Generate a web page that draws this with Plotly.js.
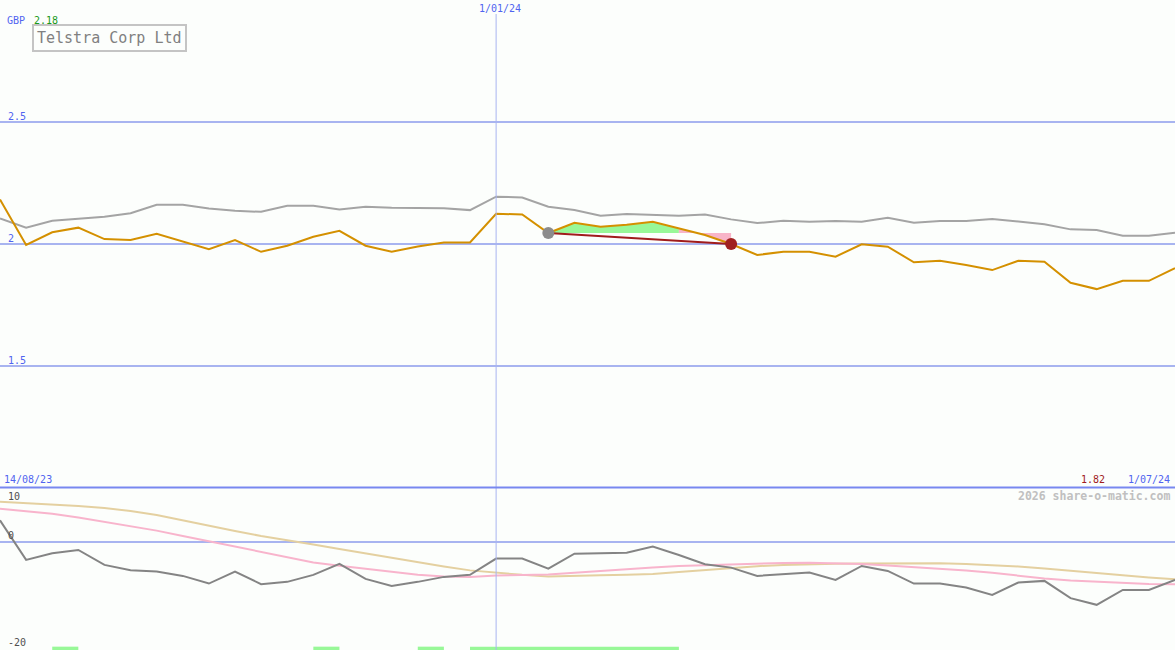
<!DOCTYPE html>
<html>
<head>
<meta charset="utf-8">
<script src="https://cdn.plot.ly/plotly-3.0.1.min.js"></script>
<style>
html,body{margin:0;padding:0;background:#fcfefc;}
#chart{width:1175px;height:650px;}
</style>
</head>
<body>
<div id="chart"></div>
<script>
// ---- data (weekly points, index 0 = 14/08/23, index 45 = 1/07/24) ----
const weekIndex = Array.from({length: 46}, (_, i) => i);
const price = [2.182,1.995,2.047,2.066,2.019,2.015,2.041,2.011,1.978,2.015,
               1.967,1.992,2.029,2.053,1.992,1.967,1.989,2.005,2.005,2.123,
               2.120,2.044,2.086,2.070,2.078,2.090,2.063,2.036,1.999,1.954,
               1.967,1.967,1.947,1.998,1.988,1.924,1.930,1.913,1.892,1.930,
               1.926,1.840,1.814,1.848,1.848,1.900];
const benchmark = [2.104,2.066,2.094,2.104,2.111,2.125,2.160,2.160,2.145,2.135,
                   2.131,2.156,2.156,2.141,2.152,2.148,2.148,2.146,2.138,2.193,
                   2.190,2.152,2.138,2.115,2.122,2.118,2.115,2.120,2.100,2.085,
                   2.094,2.090,2.093,2.090,2.107,2.086,2.093,2.093,2.102,2.091,
                   2.080,2.059,2.056,2.033,2.033,2.045];
const momentum = [3.94,-3.37,-2.14,-1.53,-4.29,-5.27,-5.52,-6.32,-7.73,-5.52,
                  -7.85,-7.42,-6.13,-4.11,-6.87,-8.16,-7.42,-6.50,-6.13,-3.13,
                  -3.13,-4.97,-2.21,-2.08,-2.03,-0.92,-2.45,-4.16,-4.79,-6.32,
                  -6.04,-5.71,-7.05,-4.48,-5.40,-7.73,-7.73,-8.47,-9.82,-7.55,
                  -7.24,-10.42,-11.66,-8.90,-8.90,-7.05];
const slowAvg = [7.37,7.13,6.87,6.57,6.21,5.65,4.92,3.90,2.89,1.97,
                 1.05,0.31,-0.52,-1.34,-2.17,-3.00,-3.83,-4.57,-5.30,-5.76,
                 -6.13,-6.41,-6.37,-6.19,-6.10,-5.95,-5.58,-5.21,-4.84,-4.53,
                 -4.29,-4.14,-4.07,-4.01,-3.98,-3.98,-3.98,-4.11,-4.29,-4.57,
                 -4.94,-5.40,-5.76,-6.22,-6.63,-6.96];
const fastAvg = [6.08,5.65,5.17,4.46,3.70,2.89,2.04,1.05,0.09,-0.88,
                 -1.86,-2.82,-3.83,-4.44,-5.03,-5.64,-6.10,-6.41,-6.50,-6.24,
                 -6.17,-6.04,-5.76,-5.40,-5.06,-4.75,-4.51,-4.33,-4.18,-4.01,
                 -3.92,-3.90,-3.98,-4.14,-4.38,-4.66,-4.94,-5.30,-5.76,-6.28,
                 -6.78,-7.15,-7.42,-7.66,-7.83,-7.85];
const signalSegments = [[2,3],[12,13],[16,17],[18,26]];
const tradeStart = 21, tradeGainEnd = 26, tradeEnd = 28;
const yearMarkIndex = 19;
const priceTicks = [1.5, 2, 2.5];
const priceTickLabels = ['1.5', '2', '2.5'];
const oscTicks = [10, 0, -20];
const oscTickLabels = ['10', '0', '-20'];
const labels = {currency:'GBP', first:'2.18', name:'Telstra Corp Ltd', yearMark:'1/01/24',
                startDate:'14/08/23', endDate:'1/07/24', low:'1.82', credit:'2026 share-o-matic.com'};

// ---- derived polygons for the trade fill ----
const level = price[tradeStart];
function band(a, b) {
  const xs = [], ys = [];
  for (let i = a; i <= b; i++) { xs.push(weekIndex[i]); ys.push(price[i]); }
  for (let i = b; i >= a; i--) { xs.push(weekIndex[i]); ys.push(level); }
  return {xs, ys};
}
const gain = band(tradeStart, tradeGainEnd);
const loss = band(tradeGainEnd, tradeEnd);
const sigX = [], sigY = [];
signalSegments.forEach(s => { sigX.push(s[0], s[1], null); sigY.push(-19.75, -19.75, null); });

const blue = '#5064f0', grid = '#a8b4f0', mono = 'DejaVu Sans Mono';
const traces = [
  {x: gain.xs, y: gain.ys, type:'scatter', mode:'lines', fill:'toself', fillcolor:'#98f898',
   line:{width:0, color:'#98f898'}, xaxis:'x', yaxis:'y', hoverinfo:'skip'},
  {x: loss.xs, y: loss.ys, type:'scatter', mode:'lines', fill:'toself', fillcolor:'#f8b4c8',
   line:{width:0, color:'#f8b4c8'}, xaxis:'x', yaxis:'y', hoverinfo:'skip'},
  {x: weekIndex, y: benchmark, type:'scatter', mode:'lines', line:{color:'#a4a4a4', width:2}, xaxis:'x', yaxis:'y'},
  {x: weekIndex, y: price, type:'scatter', mode:'lines', line:{color:'#d49000', width:2}, xaxis:'x', yaxis:'y'},
  {x: [weekIndex[tradeStart], weekIndex[tradeEnd]], y: [price[tradeStart], price[tradeEnd]], type:'scatter', mode:'lines',
   line:{color:'#a01c1c', width:2}, xaxis:'x', yaxis:'y'},
  {x: [weekIndex[tradeStart]], y: [price[tradeStart]], type:'scatter', mode:'markers',
   marker:{color:'#8c8c8c', size:12}, xaxis:'x', yaxis:'y'},
  {x: [weekIndex[tradeEnd]], y: [price[tradeEnd]], type:'scatter', mode:'markers',
   marker:{color:'#a02020', size:12}, xaxis:'x', yaxis:'y'},
  {x: weekIndex, y: slowAvg, type:'scatter', mode:'lines', line:{color:'#e4d0a0', width:2}, xaxis:'x', yaxis:'y2'},
  {x: weekIndex, y: fastAvg, type:'scatter', mode:'lines', line:{color:'#f8b4cc', width:2}, xaxis:'x', yaxis:'y2'},
  {x: weekIndex, y: momentum, type:'scatter', mode:'lines', line:{color:'#848484', width:2}, xaxis:'x', yaxis:'y2'},
  {x: sigX, y: sigY, type:'scatter', mode:'lines', line:{color:'#98f898', width:4}, xaxis:'x', yaxis:'y2'}
];

const W = 1175, H = 650;
const px = v => v / W, py = v => 1 - v / H;
const split = 1 - 487.5 / H;
function txt(text, x, y, color, size, xanchor, extra) {
  return Object.assign({text, x: px(x), y: py(y), xref:'paper', yref:'paper', showarrow:false,
    xanchor: xanchor || 'left', yanchor:'middle', font:{family:mono, size: size || 10, color}}, extra || {});
}
const annotations = [
  txt(labels.currency, 5, 20, blue),
  txt(labels.first, 31.5, 20, '#1a9a1a'),
  {text: labels.name, x: px(32), y: py(24), xref:'paper', yref:'paper', showarrow:false,
   xanchor:'left', yanchor:'top', bordercolor:'#c4c4c4', borderwidth:2, borderpad:3,
   font:{family:mono, size:15, color:'#808080'}},
  txt(labels.yearMark, 500, 9, blue, 10, 'center'),
  txt(labels.startDate, 1.5, 479, blue),
  txt(labels.low, 1079, 479, '#a01c1c'),
  txt(labels.endDate, 1172, 479, blue, 10, 'right'),
  txt(labels.credit, 1172, 496, '#c0c0c0', 11.5, 'right', {font:{family:mono, size:11.5, color:'#c0c0c0', weight:'bold'}})
];
priceTicks.forEach((t, i) => {
  const ypx = 487.5 - (t - 1) / 2 * 487.5;
  annotations.push(txt(priceTickLabels[i], 5.5, ypx - 5.5, blue));
});
const oscPos = {'10': 496, '0': 535, '-20': 642};
oscTicks.forEach((t, i) => annotations.push(txt(oscTickLabels[i], 5.5, oscPos[String(t)], '#505050')));

const layout = {
  width: W, height: H, margin:{l:0, r:0, t:0, b:0, pad:0},
  paper_bgcolor:'#fcfefc', plot_bgcolor:'#fcfefc', showlegend:false,
  xaxis:{range:[0, 45], showgrid:false, zeroline:false, showticklabels:false, showline:false, fixedrange:true},
  yaxis:{domain:[split, 1], range:[1, 3], tickvals: priceTicks, showticklabels:false, showgrid:true,
         gridcolor: grid, gridwidth:2, zeroline:false, showline:false},
  yaxis2:{domain:[0, split], range:[-20, 10], tickvals:[0], showticklabels:false, showgrid:true,
          gridcolor: grid, gridwidth:2, zeroline:false, showline:false},
  shapes:[
    {type:'line', xref:'x', yref:'paper', x0: yearMarkIndex, x1: yearMarkIndex, y0:0, y1:py(14),
     line:{color:'#a8b4f0', width:1}},
    {type:'line', xref:'paper', yref:'paper', x0:0, x1:1, y0:split, y1:split, line:{color:'#7888f0', width:2}}
  ],
  annotations
};
Plotly.newPlot('chart', traces, layout, {staticPlot:true, displayModeBar:false});
</script>
</body>
</html>
